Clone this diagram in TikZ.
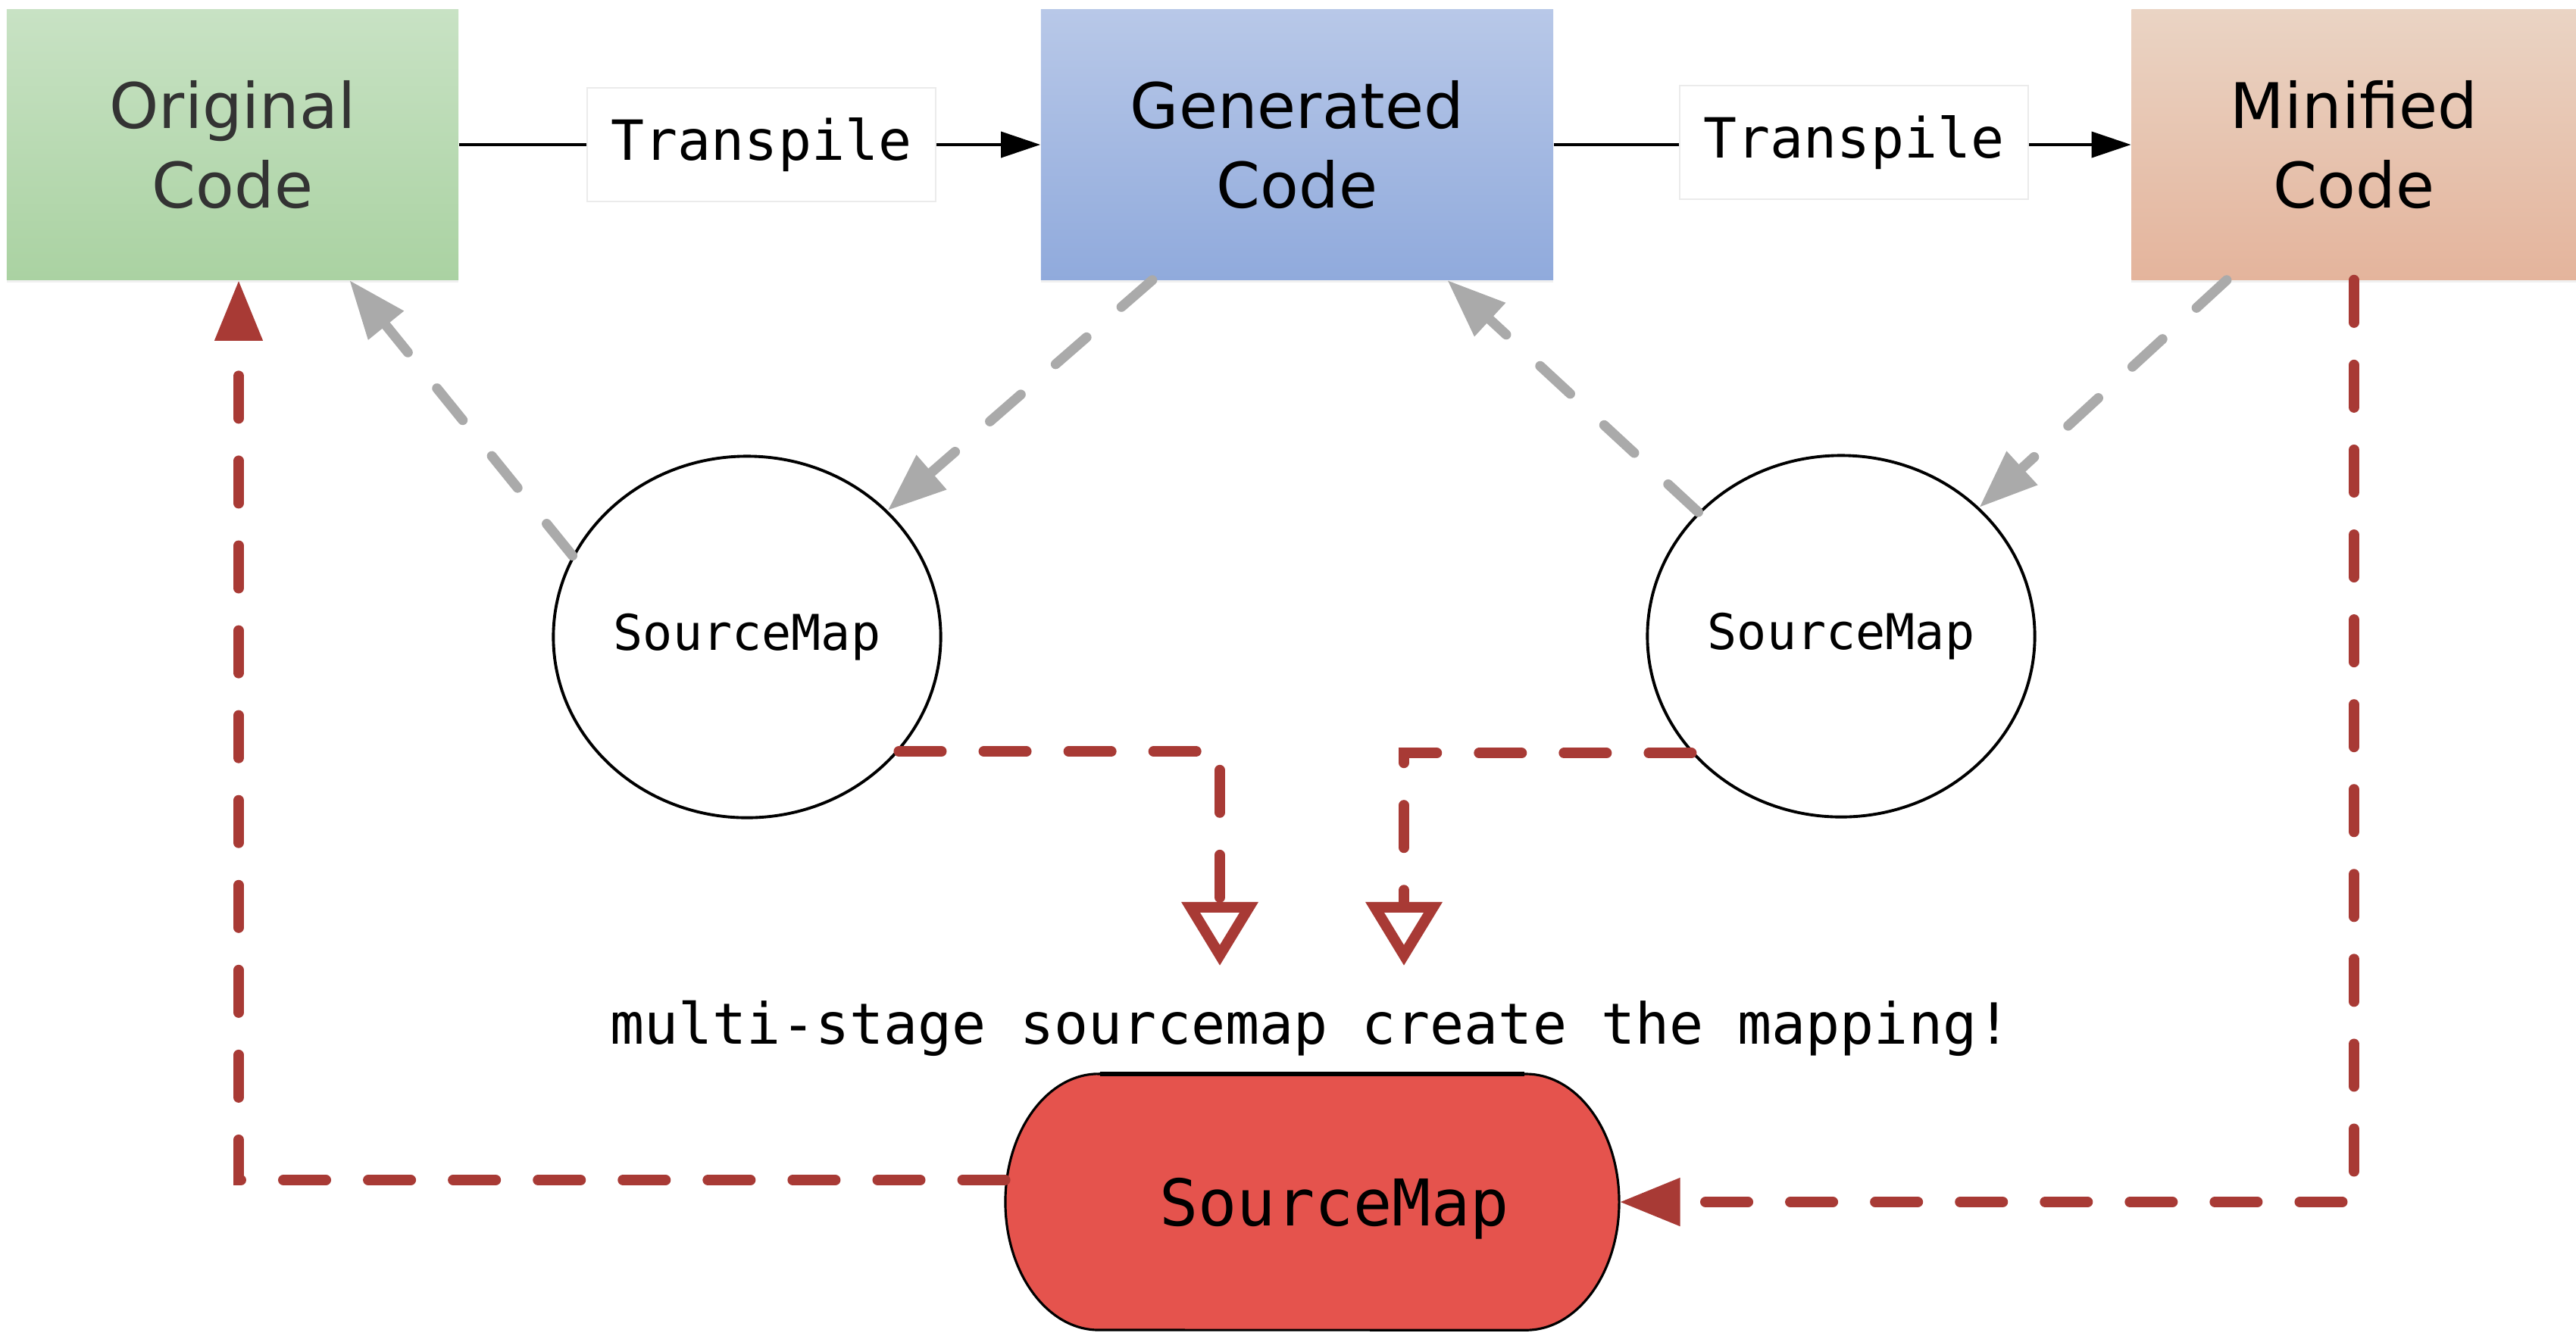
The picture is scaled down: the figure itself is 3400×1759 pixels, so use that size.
\documentclass[tikz,border=0pt]{standalone}
\usepackage{fontspec}
\setmainfont{DejaVu Sans}
\newfontfamily\monofont{DejaVu Sans Mono}
\usetikzlibrary{arrows.meta,shapes.geometric,shadows}
\definecolor{redln}{HTML}{A83A35}
\definecolor{smred}{HTML}{E5534D}
\definecolor{greyln}{HTML}{AAAAAA}
\definecolor{gtop}{HTML}{C8E2C4}
\definecolor{gbot}{HTML}{AAD2A2}
\definecolor{btop}{HTML}{B8C8E8}
\definecolor{bbot}{HTML}{90AADC}
\definecolor{otop}{HTML}{EAD4C4}
\definecolor{obot}{HTML}{E4B49C}
\begin{document}
\begin{tikzpicture}[x=0.01cm,y=-0.01cm,
  codebox/.style={minimum width=#1, minimum height=3.56cm, inner sep=0pt, align=center,
    font=\fontsize{23.6}{29.6}\selectfont,
    drop shadow={opacity=0.12, shadow xshift=0cm, shadow yshift=-0.04cm}},
  lbl/.style={fill=white, draw=black!8, line width=0.6pt, minimum width=4.6cm, minimum height=1.5cm,
    inner sep=0pt, font=\monofont\fontsize{20.8}{25}\selectfont},
  smap/.style={ellipse, draw=black, line width=1.1pt, minimum width=5.11cm, minimum height=4.77cm,
    inner sep=0pt, font=\monofont\fontsize{18.5}{22}\selectfont},
  blackarrow/.style={draw=black, line width=1.1pt, -{Triangle[length=0.52cm,width=0.34cm]}},
  greyline/.style={draw=greyln, line width=0.13cm, line cap=round, dash pattern=on 0.54cm off 0.61cm,
    -{Triangle[length=0.77cm,width=0.57cm]}},
  redline/.style={draw=redln, line width=0.14cm, line cap=round, dash pattern=on 0.56cm off 0.56cm},
  redtip/.style={-{Triangle[length=0.8cm,width=0.6cm]}},
  opentip/.style={-{Triangle[open,fill=white,length=0.84cm,width=0.98cm]}}
]
\useasboundingbox (0,0) rectangle (3400,1759);

% top boxes
\node[codebox=5.96cm, top color=gtop, bottom color=gbot, text=black!80] (orig) at (307,191) {Original\\Code};
\node[codebox=6.76cm, top color=btop, bottom color=bbot] (gen) at (1712,191) {Generated\\Code};
\node[codebox=5.87cm, top color=otop, bottom color=obot] (mini) at (3107,191) {Minified\\Code};

% transpile arrows
\draw[blackarrow] (orig.east) -- (gen.west);
\draw[blackarrow] (gen.east) -- (mini.west);
\node[lbl] (t1lbl) at (1005,191) {Transpile};
\node[lbl] (t2lbl) at (2447,188) {Transpile};

% ellipses
\node[smap] (e1) at (986,841) {SourceMap};
\node[smap] (e2) at (2430,840) {SourceMap};

% bottom sourcemap shape (flat top/bottom, elliptical ends)
\filldraw[fill=smred, draw=black, line width=0.9pt] (1450,1418) -- (2014,1418)
  arc[start angle=90, end angle=-90, x radius=1.23cm, y radius=1.69cm]
  -- (1450,1756)
  arc[start angle=270, end angle=90, x radius=1.23cm, y radius=1.69cm] -- cycle;
\draw[black, line width=1.8pt] (1452,1418) -- (2012,1418);
\node[minimum width=8.09cm, minimum height=3.38cm, inner sep=0pt] (bsm) at (1732,1587) {};
\node[anchor=base, inner sep=0pt, font=\monofont\fontsize{24.2}{29}\selectfont] (bsmtext) at (1761,1618) {SourceMap};

% caption
\node[anchor=base, inner sep=0pt, font=\monofont\fontsize{21.3}{26}\selectfont] (cap) at (1730,1378)
  {multi-stage sourcemap create the mapping!};

% grey dashed arrows
\draw[greyline] (e1.155) -- ([xshift=1.54cm]orig.south);
\draw[greyline] ([xshift=-1.91cm]gen.south) -- (e1.42);
\draw[greyline] (e2.139) -- ([xshift=1.98cm]gen.south);
\draw[greyline] ([xshift=-1.68cm]mini.south) -- (e2.43);

% red dashed connectors
\coordinate (tip1) at (1610,1275);
\coordinate (tip2) at (1853,1275);
\draw[redline, opentip] (e1.-37) -| (tip1);
\draw[redline, opentip] (e2.218) -| (tip2);
\draw[redline, redtip] (mini.south) |- (bsm.east);
\draw[redline, redtip] ([yshift=0.29cm]bsm.west) -| ([xshift=0.08cm]orig.south);
\end{tikzpicture}
\end{document}
